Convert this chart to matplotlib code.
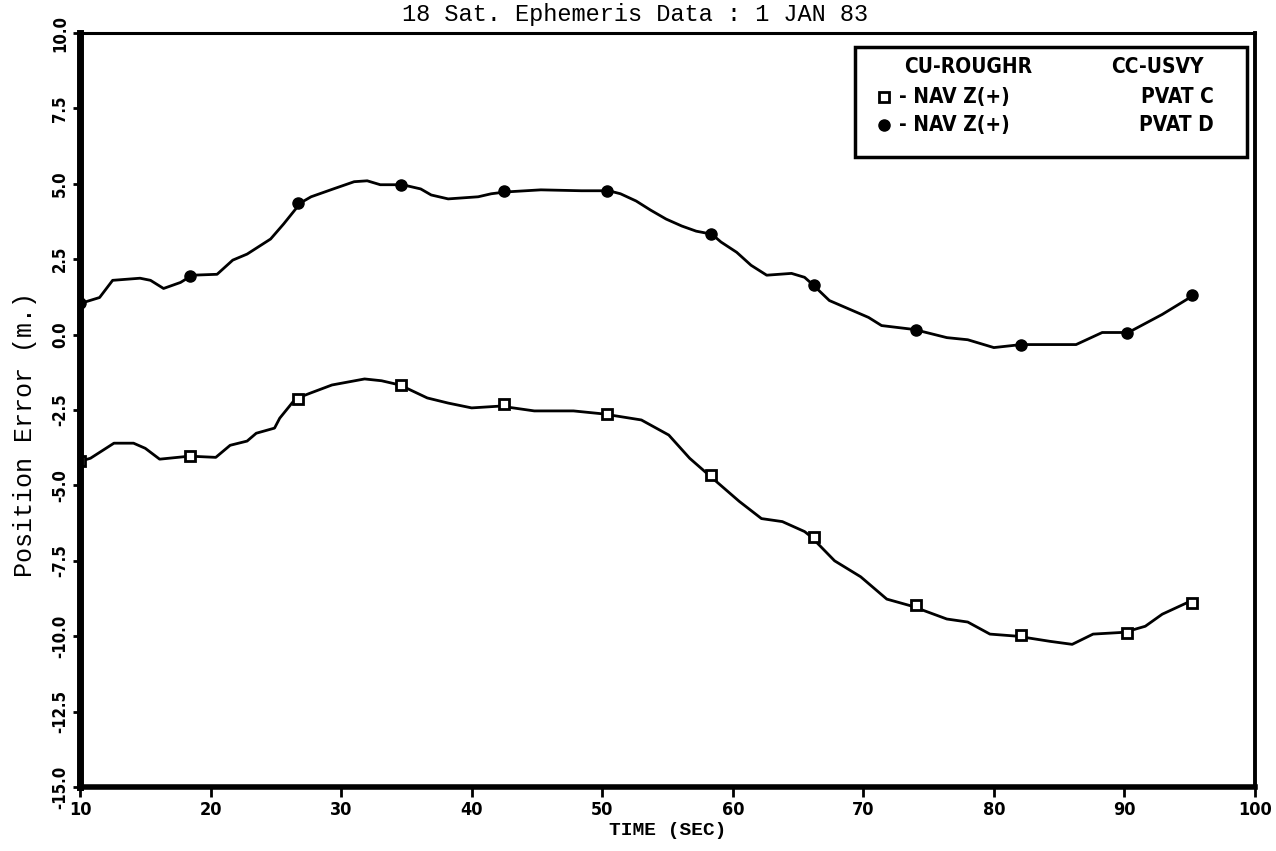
import matplotlib
matplotlib.use("Agg")
import matplotlib.pyplot as plt
from matplotlib.patches import Rectangle

# traced curves (time in sec, position error in m)
upper_t = [10.0, 11.5, 12.5, 14.6, 15.4, 16.4, 17.7, 18.6, 20.5, 21.7, 22.8, 24.6,
           25.6, 26.9, 27.7, 29.4, 31.0, 32.0, 33.0, 34.7, 36.1, 36.9, 38.2, 40.5,
           41.5, 42.6, 45.3, 48.4, 50.5, 51.4, 52.6, 53.7, 54.9, 56.1, 57.2, 58.4,
           59.1, 60.3, 61.4, 62.6, 64.5, 65.5, 66.1, 67.4, 70.4, 71.4, 73.9, 76.4,
           78.0, 80.0, 82.1, 86.3, 88.3, 90.3, 92.9, 95.4]
upper_err = [1.03, 1.23, 1.80, 1.87, 1.80, 1.53, 1.73, 1.97, 2.00, 2.47, 2.67, 3.17,
             3.67, 4.37, 4.57, 4.83, 5.07, 5.10, 4.97, 4.97, 4.83, 4.63, 4.50, 4.57,
             4.67, 4.73, 4.80, 4.77, 4.77, 4.67, 4.43, 4.13, 3.83, 3.60, 3.43, 3.33,
             3.07, 2.73, 2.30, 1.97, 2.03, 1.90, 1.67, 1.13, 0.57, 0.30, 0.17, -0.10,
             -0.17, -0.43, -0.33, -0.33, 0.07, 0.07, 0.67, 1.33]

lower_t = [10.0, 10.8, 12.6, 14.1, 15.0, 16.1, 18.4, 20.4, 21.5, 22.8, 23.5, 24.9,
           25.3, 26.5, 27.7, 29.3, 31.8, 33.1, 34.5, 36.6, 38.2, 40.0, 42.2, 44.8,
           47.8, 50.1, 53.0, 55.1, 56.7, 58.1, 60.5, 62.2, 63.8, 65.5, 66.0, 67.8,
           69.8, 71.8, 73.7, 76.4, 78.0, 79.7, 81.8, 84.3, 86.0, 87.6, 90.0, 91.6,
           92.9, 94.9]
lower_err = [-4.20, -4.10, -3.60, -3.60, -3.77, -4.13, -4.03, -4.07, -3.67, -3.53, -3.27, -3.10,
             -2.77, -2.13, -1.93, -1.67, -1.47, -1.53, -1.67, -2.10, -2.27, -2.43, -2.37, -2.53,
             -2.53, -2.63, -2.83, -3.33, -4.10, -4.63, -5.53, -6.10, -6.20, -6.53, -6.70, -7.50,
             -8.03, -8.77, -9.00, -9.43, -9.53, -9.93, -10.00, -10.17, -10.27, -9.93, -9.87, -9.67,
             -9.27, -8.87]

# plotted symbols
mark_t = [10.0, 18.4, 26.7, 34.6, 42.5, 50.4, 58.3, 66.2, 74.0, 82.1, 90.2, 95.2]
mark_upper = [1.05, 1.95, 4.35, 4.97, 4.75, 4.77, 3.33, 1.65, 0.15, -0.33, 0.05, 1.30]
mark_lower = [-4.20, -4.03, -2.15, -1.67, -2.30, -2.63, -4.65, -6.70, -8.97, -9.97, -9.90, -8.90]

xticks = [10, 20, 30, 40, 50, 60, 70, 80, 90, 100]
yticks = [-15.0, -12.5, -10.0, -7.5, -5.0, -2.5, 0.0, 2.5, 5.0, 7.5, 10.0]

bold = dict(family=["DejaVu Sans"], weight="bold", stretch="condensed")
mono = dict(family=["Liberation Mono", "DejaVu Sans Mono"])

fig = plt.figure(figsize=(12.76, 8.51), dpi=100)
ax = fig.add_axes([0.0627, 0.0752, 0.9208, 0.886])

ax.plot(upper_t, upper_err, color="black", lw=2.0)
ax.plot(lower_t, lower_err, color="black", lw=2.0)
ax.plot(mark_t, mark_upper, "o", color="black", ms=8)
ax.plot(mark_t, mark_lower, "s", mfc="white", mec="black", mew=2, ms=7)

ax.set_xlim(10, 100)
ax.set_ylim(-15, 10)
ax.set_xticks(xticks)
ax.set_xticklabels([str(v) for v in xticks], fontsize=13, **bold)
ax.set_yticks(yticks)
ax.set_yticklabels(["%.1f" % v for v in yticks], fontsize=12, rotation=90,
                   va="center", **bold)
ax.tick_params(axis="x", direction="out", length=7, width=2, pad=3)
ax.tick_params(axis="y", direction="out", length=5, width=2, pad=3)

ax.spines["left"].set_linewidth(5)
ax.spines["bottom"].set_linewidth(4)
ax.spines["top"].set_linewidth(2.2)
ax.spines["right"].set_linewidth(2.8)

ax.set_xlabel("TIME (SEC)", fontsize=14, labelpad=2, **mono, weight="bold")
ax.set_ylabel("Position Error (m.)", fontsize=18, **mono)
ax.yaxis.set_label_coords(-0.037, 0.467)

fig.text(635 / 1276, 1 - 15 / 851, "18 Sat. Ephemeris Data : 1 JAN 83",
         ha="center", va="center", fontsize=17, **mono)

# legend box
ax.add_patch(Rectangle((0.660, 0.836), 0.333, 0.146, transform=ax.transAxes,
                       fill=False, lw=2.5, color="black", zorder=5))
ax.text(0.756, 0.955, "CU-ROUGHR", transform=ax.transAxes, ha="center",
        va="center", fontsize=15, **bold)
ax.text(0.917, 0.955, "CC-USVY", transform=ax.transAxes, ha="center",
        va="center", fontsize=15, **bold)
ax.plot([0.684], [0.915], "s", mfc="white", mec="black", mew=2, ms=7,
        transform=ax.transAxes, clip_on=False)
ax.plot([0.684], [0.878], "o", color="black", ms=8,
        transform=ax.transAxes, clip_on=False)
ax.text(0.697, 0.915, "- NAV Z(+)", transform=ax.transAxes, ha="left",
        va="center", fontsize=15, **bold)
ax.text(0.697, 0.878, "- NAV Z(+)", transform=ax.transAxes, ha="left",
        va="center", fontsize=15, **bold)
ax.text(0.965, 0.915, "PVAT C", transform=ax.transAxes, ha="right",
        va="center", fontsize=15, **bold)
ax.text(0.965, 0.878, "PVAT D", transform=ax.transAxes, ha="right",
        va="center", fontsize=15, **bold)

fig.savefig("out.png", dpi=100)
